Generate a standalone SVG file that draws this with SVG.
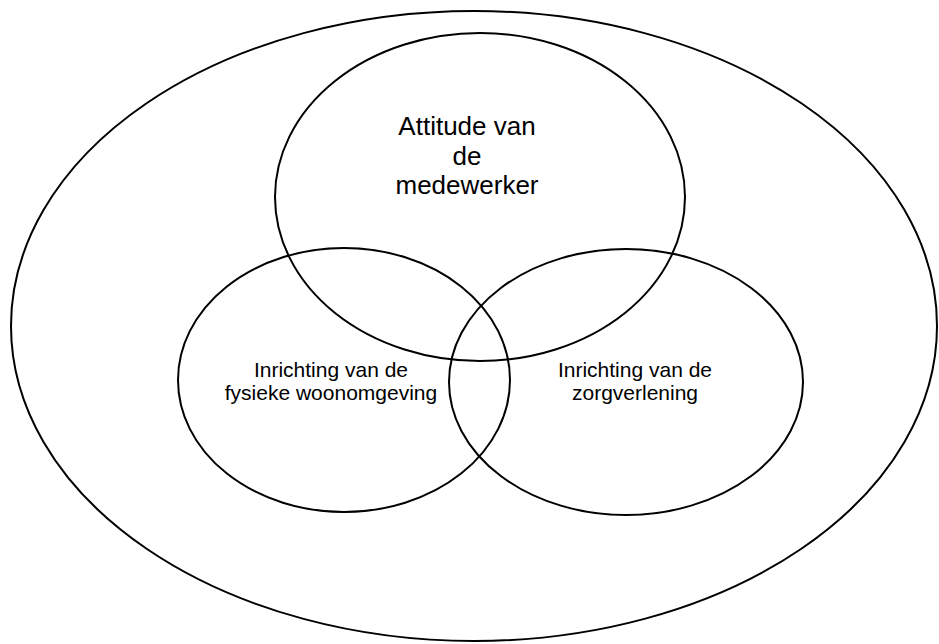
<svg xmlns="http://www.w3.org/2000/svg" width="939" height="644" viewBox="0 0 939 644">
<style>
.shape{fill:none;stroke:#000;stroke-width:2}
.lbl{font-family:"Liberation Sans",Arial,sans-serif;fill:#000;text-anchor:middle}
.big{font-size:26px}
.small{font-size:21px}
</style>
<rect width="939" height="644" fill="#fff"/>
<g id="context">
<ellipse class="shape" cx="474" cy="326" rx="463" ry="315"/>
</g>
<g id="attitude">
<ellipse class="shape" cx="480" cy="197" rx="205" ry="164"/>
<text class="lbl big" x="467" y="135">Attitude van</text>
<text class="lbl big" x="467" y="165">de</text>
<text class="lbl big" x="467" y="194">medewerker</text>
</g>
<g id="woonomgeving">
<ellipse class="shape" cx="344" cy="380" rx="166" ry="132"/>
<text class="lbl small" x="331" y="377">Inrichting van de</text>
<text class="lbl small" x="331" y="400">fysieke woonomgeving</text>
</g>
<g id="zorgverlening">
<ellipse class="shape" cx="626" cy="382" rx="177" ry="133"/>
<text class="lbl small" x="635" y="377">Inrichting van de</text>
<text class="lbl small" x="635" y="400">zorgverlening</text>
</g>
<g id="connectors"/>
</svg>
